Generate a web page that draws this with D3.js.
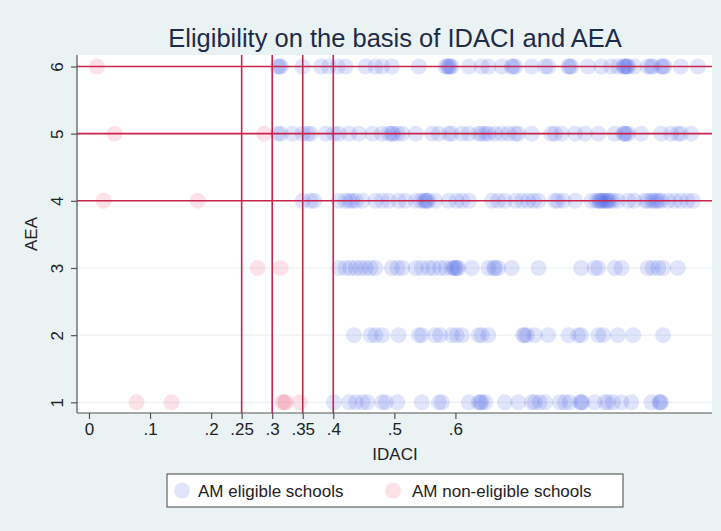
<!DOCTYPE html>
<html>
<head>
<meta charset="utf-8" />
<script src="https://d3js.org/d3.v7.min.js"></script>
<style>
  body { margin: 0; background: #eaf2f3; }
  svg { font-family: "Liberation Sans", Arial, sans-serif; }
</style>
</head>
<body>
<svg width="721" height="531"></svg>
<script>
// IDACI values of AM eligible schools, one list per AEA level
var eligible6 = [0.309, 0.312, 0.314, 0.350, 0.380, 0.393, 0.407, 0.420, 0.453, 0.469, 0.480, 0.496,
  0.540, 0.584, 0.587, 0.589, 0.591, 0.594, 0.622, 0.643, 0.654, 0.676, 0.692, 0.694, 0.698, 0.725,
  0.747, 0.752, 0.785, 0.787, 0.790, 0.817, 0.839, 0.855, 0.866, 0.875, 0.877, 0.879, 0.881, 0.883,
  0.893, 0.915, 0.920, 0.923, 0.937, 0.940, 0.942, 0.969, 0.997];
var eligible5 = [0.309, 0.314, 0.333, 0.350, 0.358, 0.363, 0.388, 0.401, 0.409, 0.426, 0.442, 0.464,
  0.480, 0.491, 0.496, 0.498, 0.505, 0.513, 0.535, 0.562, 0.573, 0.589, 0.594, 0.611, 0.622, 0.638,
  0.643, 0.649, 0.654, 0.665, 0.676, 0.687, 0.698, 0.703, 0.725, 0.757, 0.763, 0.774, 0.796, 0.812,
  0.834, 0.861, 0.875, 0.877, 0.879, 0.883, 0.904, 0.937, 0.953, 0.964, 0.969, 0.986];
var eligible4 = [0.350, 0.363, 0.369, 0.409, 0.420, 0.426, 0.431, 0.437, 0.448, 0.469, 0.480, 0.491,
  0.507, 0.518, 0.535, 0.543, 0.549, 0.551, 0.553, 0.556, 0.567, 0.589, 0.602, 0.611, 0.622, 0.660,
  0.670, 0.681, 0.698, 0.709, 0.719, 0.728, 0.736, 0.763, 0.768, 0.777, 0.796, 0.823, 0.831, 0.835,
  0.837, 0.839, 0.842, 0.845, 0.848, 0.850, 0.853, 0.858, 0.866, 0.883, 0.893, 0.910, 0.915, 0.921,
  0.925, 0.929, 0.933, 0.937, 0.948, 0.959, 0.969, 0.980, 0.989];
var eligible3 = [0.409, 0.420, 0.428, 0.437, 0.445, 0.453, 0.461, 0.469, 0.496, 0.505, 0.513, 0.535,
  0.545, 0.556, 0.564, 0.575, 0.584, 0.594, 0.598, 0.600, 0.602, 0.605, 0.627, 0.654, 0.663, 0.665,
  0.670, 0.692, 0.736, 0.806, 0.828, 0.834, 0.861, 0.872, 0.915, 0.923, 0.932, 0.940, 0.964];
var eligible2 = [0.434, 0.461, 0.469, 0.480, 0.507, 0.540, 0.545, 0.567, 0.575, 0.594, 0.602, 0.611,
  0.638, 0.643, 0.654, 0.711, 0.713, 0.717, 0.730, 0.752, 0.785, 0.801, 0.806, 0.834, 0.842, 0.866,
  0.891, 0.940];
var eligible1 = [0.401, 0.426, 0.437, 0.448, 0.456, 0.480, 0.486, 0.505, 0.545, 0.573, 0.578, 0.622,
  0.638, 0.641, 0.643, 0.649, 0.681, 0.703, 0.725, 0.730, 0.738, 0.747, 0.771, 0.779, 0.787, 0.804,
  0.806, 0.808, 0.828, 0.845, 0.850, 0.858, 0.872, 0.888, 0.921, 0.934, 0.935, 0.937];

// AM non-eligible schools
var nonEligibleIdaci = [0.013, 0.042, 0.287, 0.024, 0.178, 0.276, 0.314, 0.078, 0.135, 0.317, 0.320, 0.322, 0.345];
var nonEligibleAea   = [6,     5,     5,     4,     4,     3,     3,     1,     1,     1,     1,     1,     1];

var xTicks = [0, 0.1, 0.2, 0.25, 0.3, 0.35, 0.4, 0.5, 0.6];
var xTickLabels = ["0", ".1", ".2", ".25", ".3", ".35", ".4", ".5", ".6"];
var yTicks = [1, 2, 3, 4, 5, 6];
var idaciCutoffs = [0.25, 0.3, 0.35, 0.4];
var aeaCutoffs = [4, 5, 6];
var legendLabels = ["AM eligible schools", "AM non-eligible schools"];

var blue = "#3350e6", pink = "#f07a98", red = "#c9244b";

var eligible = [];
[[1, eligible1], [2, eligible2], [3, eligible3], [4, eligible4], [5, eligible5], [6, eligible6]]
  .forEach(function (r) {
    r[1].forEach(function (v) { eligible.push({ x: v, y: r[0] }); });
  });
var nonEligible = nonEligibleIdaci.map(function (v, i) { return { x: v, y: nonEligibleAea[i] }; });

var svg = d3.select("svg");
var pLeft = 77, pRight = 712, pTop = 55, pBottom = 413;

var x = d3.scaleLinear().domain([-0.0196, 1.0201]).range([pLeft, pRight]);
var y = d3.scaleLinear().domain([0.841, 6.171]).range([pBottom, pTop]);

svg.append("rect").attr("width", 721).attr("height", 531).attr("fill", "#eaf2f3");
svg.append("rect").attr("x", pLeft).attr("y", pTop)
  .attr("width", pRight - pLeft).attr("height", pBottom - pTop).attr("fill", "#fff");

// grid
svg.append("g").selectAll("line").data(yTicks).enter().append("line")
  .attr("x1", pLeft).attr("x2", pRight)
  .attr("y1", function (d) { return y(d); }).attr("y2", function (d) { return y(d); })
  .attr("stroke", "#e8eef0").attr("stroke-width", 1);

// points
svg.append("g").selectAll("circle").data(eligible).enter().append("circle")
  .attr("cx", function (d) { return x(d.x); })
  .attr("cy", function (d) { return y(d.y); })
  .attr("r", 8)
  .attr("fill", blue).attr("fill-opacity", 0.15);
svg.append("g").selectAll("circle").data(nonEligible).enter().append("circle")
  .attr("cx", function (d) { return x(d.x); })
  .attr("cy", function (d) { return y(d.y); })
  .attr("r", 8)
  .attr("fill", pink).attr("fill-opacity", 0.22);

// cutoff lines
svg.append("g").selectAll("line").data(aeaCutoffs).enter().append("line")
  .attr("x1", pLeft).attr("x2", pRight)
  .attr("y1", function (d) { return y(d); }).attr("y2", function (d) { return y(d); })
  .attr("stroke", red).attr("stroke-width", 1.6);
svg.append("g").selectAll("line").data(idaciCutoffs).enter().append("line")
  .attr("x1", function (d) { return x(d); }).attr("x2", function (d) { return x(d); })
  .attr("y1", pTop).attr("y2", pBottom)
  .attr("stroke", red).attr("stroke-width", 1.6);

// axes
var xAxis = svg.append("g").attr("transform", "translate(0," + pBottom + ")")
  .call(d3.axisBottom(x).tickValues(xTicks).tickSize(6).tickPadding(4)
    .tickFormat(function (d, i) { return xTickLabels[i]; }));
var yAxis = svg.append("g").attr("transform", "translate(" + pLeft + ",0)")
  .call(d3.axisLeft(y).tickValues(yTicks).tickSize(6).tickPadding(5).tickFormat(d3.format("d")));

[xAxis, yAxis].forEach(function (a) {
  a.select(".domain").attr("stroke", "#555").attr("stroke-width", 1.2);
  a.selectAll(".tick line").attr("stroke", "#555").attr("stroke-width", 1.2);
  a.selectAll(".tick text").attr("fill", "#222").style("font-size", "17px")
    .style("font-family", "Liberation Sans, Arial, sans-serif");
});
xAxis.select(".domain").attr("d", "M" + pLeft + ",0H" + pRight);
yAxis.select(".domain").attr("d", "M0," + pBottom + "V" + pTop);
yAxis.selectAll(".tick text")
  .attr("text-anchor", "middle").attr("x", 0).attr("dy", 0)
  .attr("transform", "translate(-20,0) rotate(-90)")
  .attr("dominant-baseline", "central");

// titles
svg.append("text").attr("x", 395).attr("y", 47).attr("text-anchor", "middle")
  .attr("fill", "#1d2b49").style("font-size", "25.5px")
  .text("Eligibility on the basis of IDACI and AEA");
svg.append("text").attr("x", 395).attr("y", 460).attr("text-anchor", "middle")
  .attr("fill", "#222").style("font-size", "17px").text("IDACI");
svg.append("text").attr("transform", "translate(37," + (pTop + pBottom) / 2 + ") rotate(-90)")
  .attr("text-anchor", "middle").attr("fill", "#222").style("font-size", "17px").text("AEA");

// legend
var lg = svg.append("g");
lg.append("rect").attr("x", 167).attr("y", 474).attr("width", 456).attr("height", 33)
  .attr("fill", "#fff").attr("stroke", "#444").attr("stroke-width", 1);
var items = [{ c: blue, o: 0.15, cx: 182, tx: 198 }, { c: pink, o: 0.22, cx: 393, tx: 412 }];
items.forEach(function (it, i) {
  lg.append("circle").attr("cx", it.cx).attr("cy", 490.5).attr("r", 8)
    .attr("fill", it.c).attr("fill-opacity", it.o);
  lg.append("text").attr("x", it.tx).attr("y", 496.5).attr("fill", "#222")
    .style("font-size", "17px").text(legendLabels[i]);
});
</script>
</body>
</html>
